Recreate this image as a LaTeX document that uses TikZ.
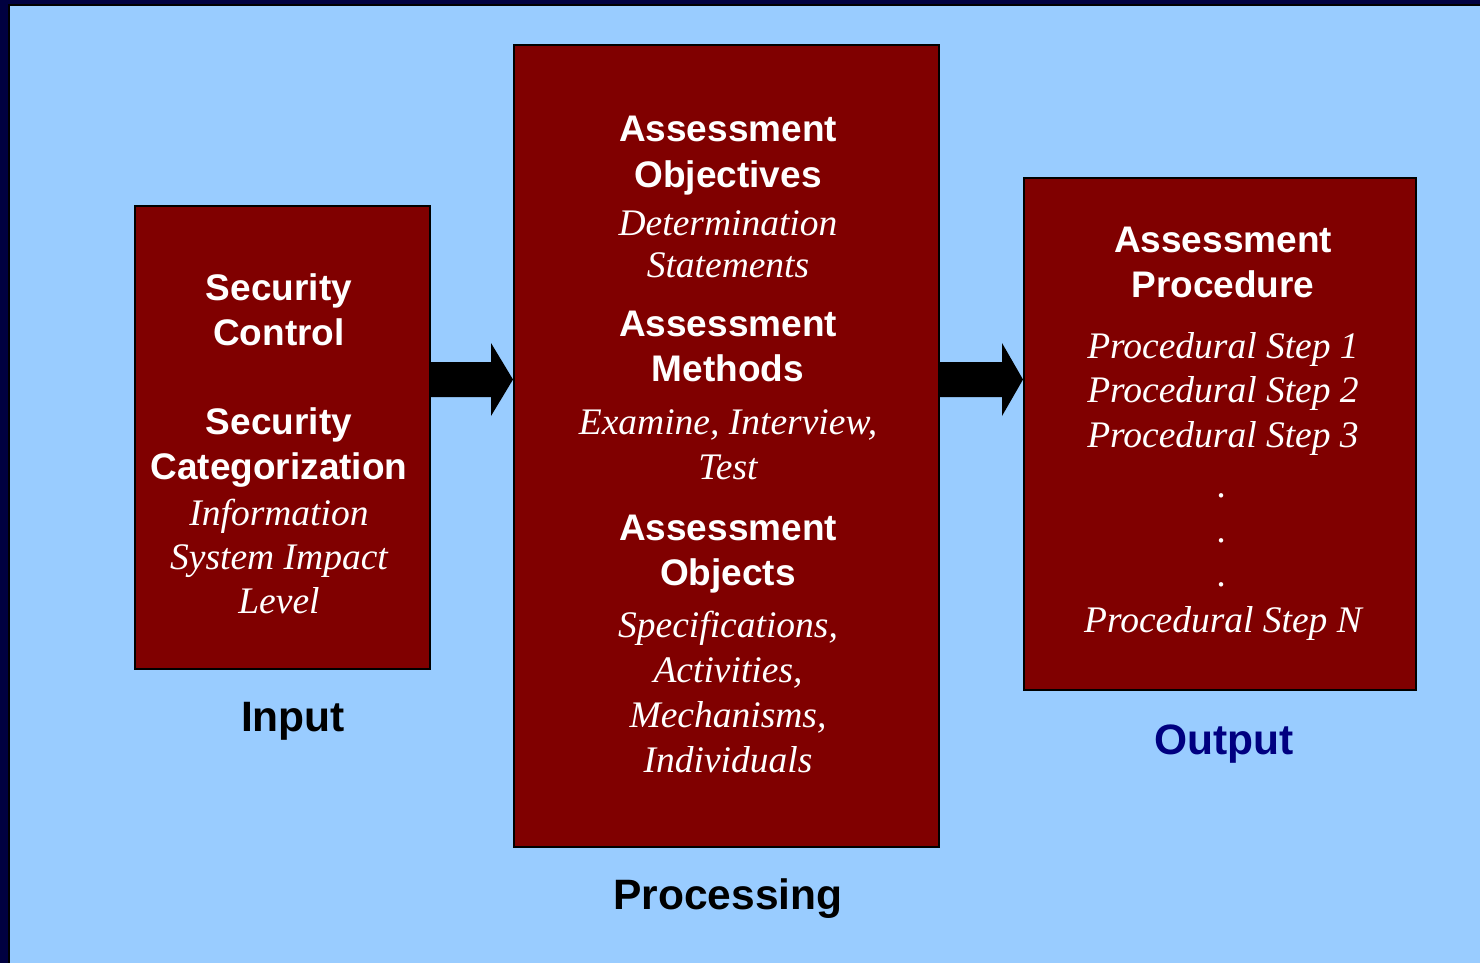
\documentclass[tikz,border=0pt]{standalone}
\usepackage{fontspec}
\setmainfont{Liberation Serif}
\setsansfont{Liberation Sans}
\definecolor{slideblue}{HTML}{99CCFF}
\definecolor{slidenavy}{HTML}{000040}
\definecolor{boxred}{HTML}{800000}
\definecolor{labelnavy}{HTML}{000080}
\tikzset{
  box/.style={draw=black, line width=2pt, fill=boxred, inner sep=0pt},
  head/.style={anchor=base, text=white, font=\sffamily\bfseries\fontsize{37}{45}\selectfont},
  note/.style={anchor=base, text=white, font=\itshape\fontsize{37.5}{44}\selectfont},
  caption/.style={anchor=base, font=\sffamily\bfseries\fontsize{42.5}{50}\selectfont},
}

\begin{document}
\begin{tikzpicture}[x=1pt, y=-1pt]
\useasboundingbox (0,0) rectangle (1480,963);
\fill [slidenavy] (0,0) rectangle (1480,963);
\fill [black] (8,4) rectangle (1480,963);
\fill [slideblue] (10,6) rectangle (1480,963);
\node [box, minimum width=295pt, minimum height=463pt] (input) at (282.5,437.5) {};
\node [box, minimum width=425pt, minimum height=802pt] (proc) at (726.5,446) {};
\node [box, minimum width=392pt, minimum height=512pt] (output) at (1220,434) {};
\fill (input.east |- 0,362) -- (491,362) -- (491,343) -- (proc.west |- 0,379.5)
      -- (491,416) -- (491,397) -- (input.east |- 0,397) -- cycle;
\fill (proc.east |- 0,362) -- (1002,362) -- (1002,343) -- (output.west |- 0,379.5)
      -- (1002,416) -- (1002,397) -- (proc.east |- 0,397) -- cycle;
% input box
\node [head] (sc1) at (279,300) {Security};
\node [head] (sc2) at (279,345) {Control};
\node [head] (cat1) at (279,434) {Security};
\node [head] (cat2) at (279,479) {Categorization};
\node [note] (imp1) at (279,525) {Information};
\node [note] (imp2) at (279,569) {System Impact};
\node [note] (imp3) at (279,613) {Level};
% processing box
\node [head] (obj1) at (728,142) {Assessment};
\node [head] (obj2) at (728,187) {Objectives};
\node [note] (det1) at (728,235) {Determination};
\node [note] (det2) at (728,277) {Statements};
\node [head] (met1) at (728,336) {Assessment};
\node [head] (met2) at (728,381) {Methods};
\node [note] (exa1) at (728,434) {Examine, Interview,};
\node [note] (exa2) at (728,479) {Test};
\node [head] (obs1) at (728,540) {Assessment};
\node [head] (obs2) at (728,585) {Objects};
\node [note] (spe1) at (728,637) {Specifications,};
\node [note] (spe2) at (728,682) {Activities,};
\node [note] (spe3) at (728,727) {Mechanisms,};
\node [note] (spe4) at (728,772) {Individuals};
% output box
\node [head] (pro1) at (1223,252) {Assessment};
\node [head] (pro2) at (1223,297) {Procedure};
\node [note] (st1) at (1223,358) {Procedural Step 1};
\node [note] (st2) at (1223,402) {Procedural Step 2};
\node [note] (st3) at (1223,447) {Procedural Step 3};
\node [note] (dot1) at (1222,497) {.};
\node [note] (dot2) at (1222,542) {.};
\node [note] (dot3) at (1222,586) {.};
\node [note] (stn) at (1223,632) {Procedural Step N};
% captions
\node [caption] (lin) at (293,731) {Input};
\node [caption] (lproc) at (728,909) {Processing};
\node [caption, text=labelnavy] (lout) at (1224,754) {Output};
\end{tikzpicture}
\end{document}
